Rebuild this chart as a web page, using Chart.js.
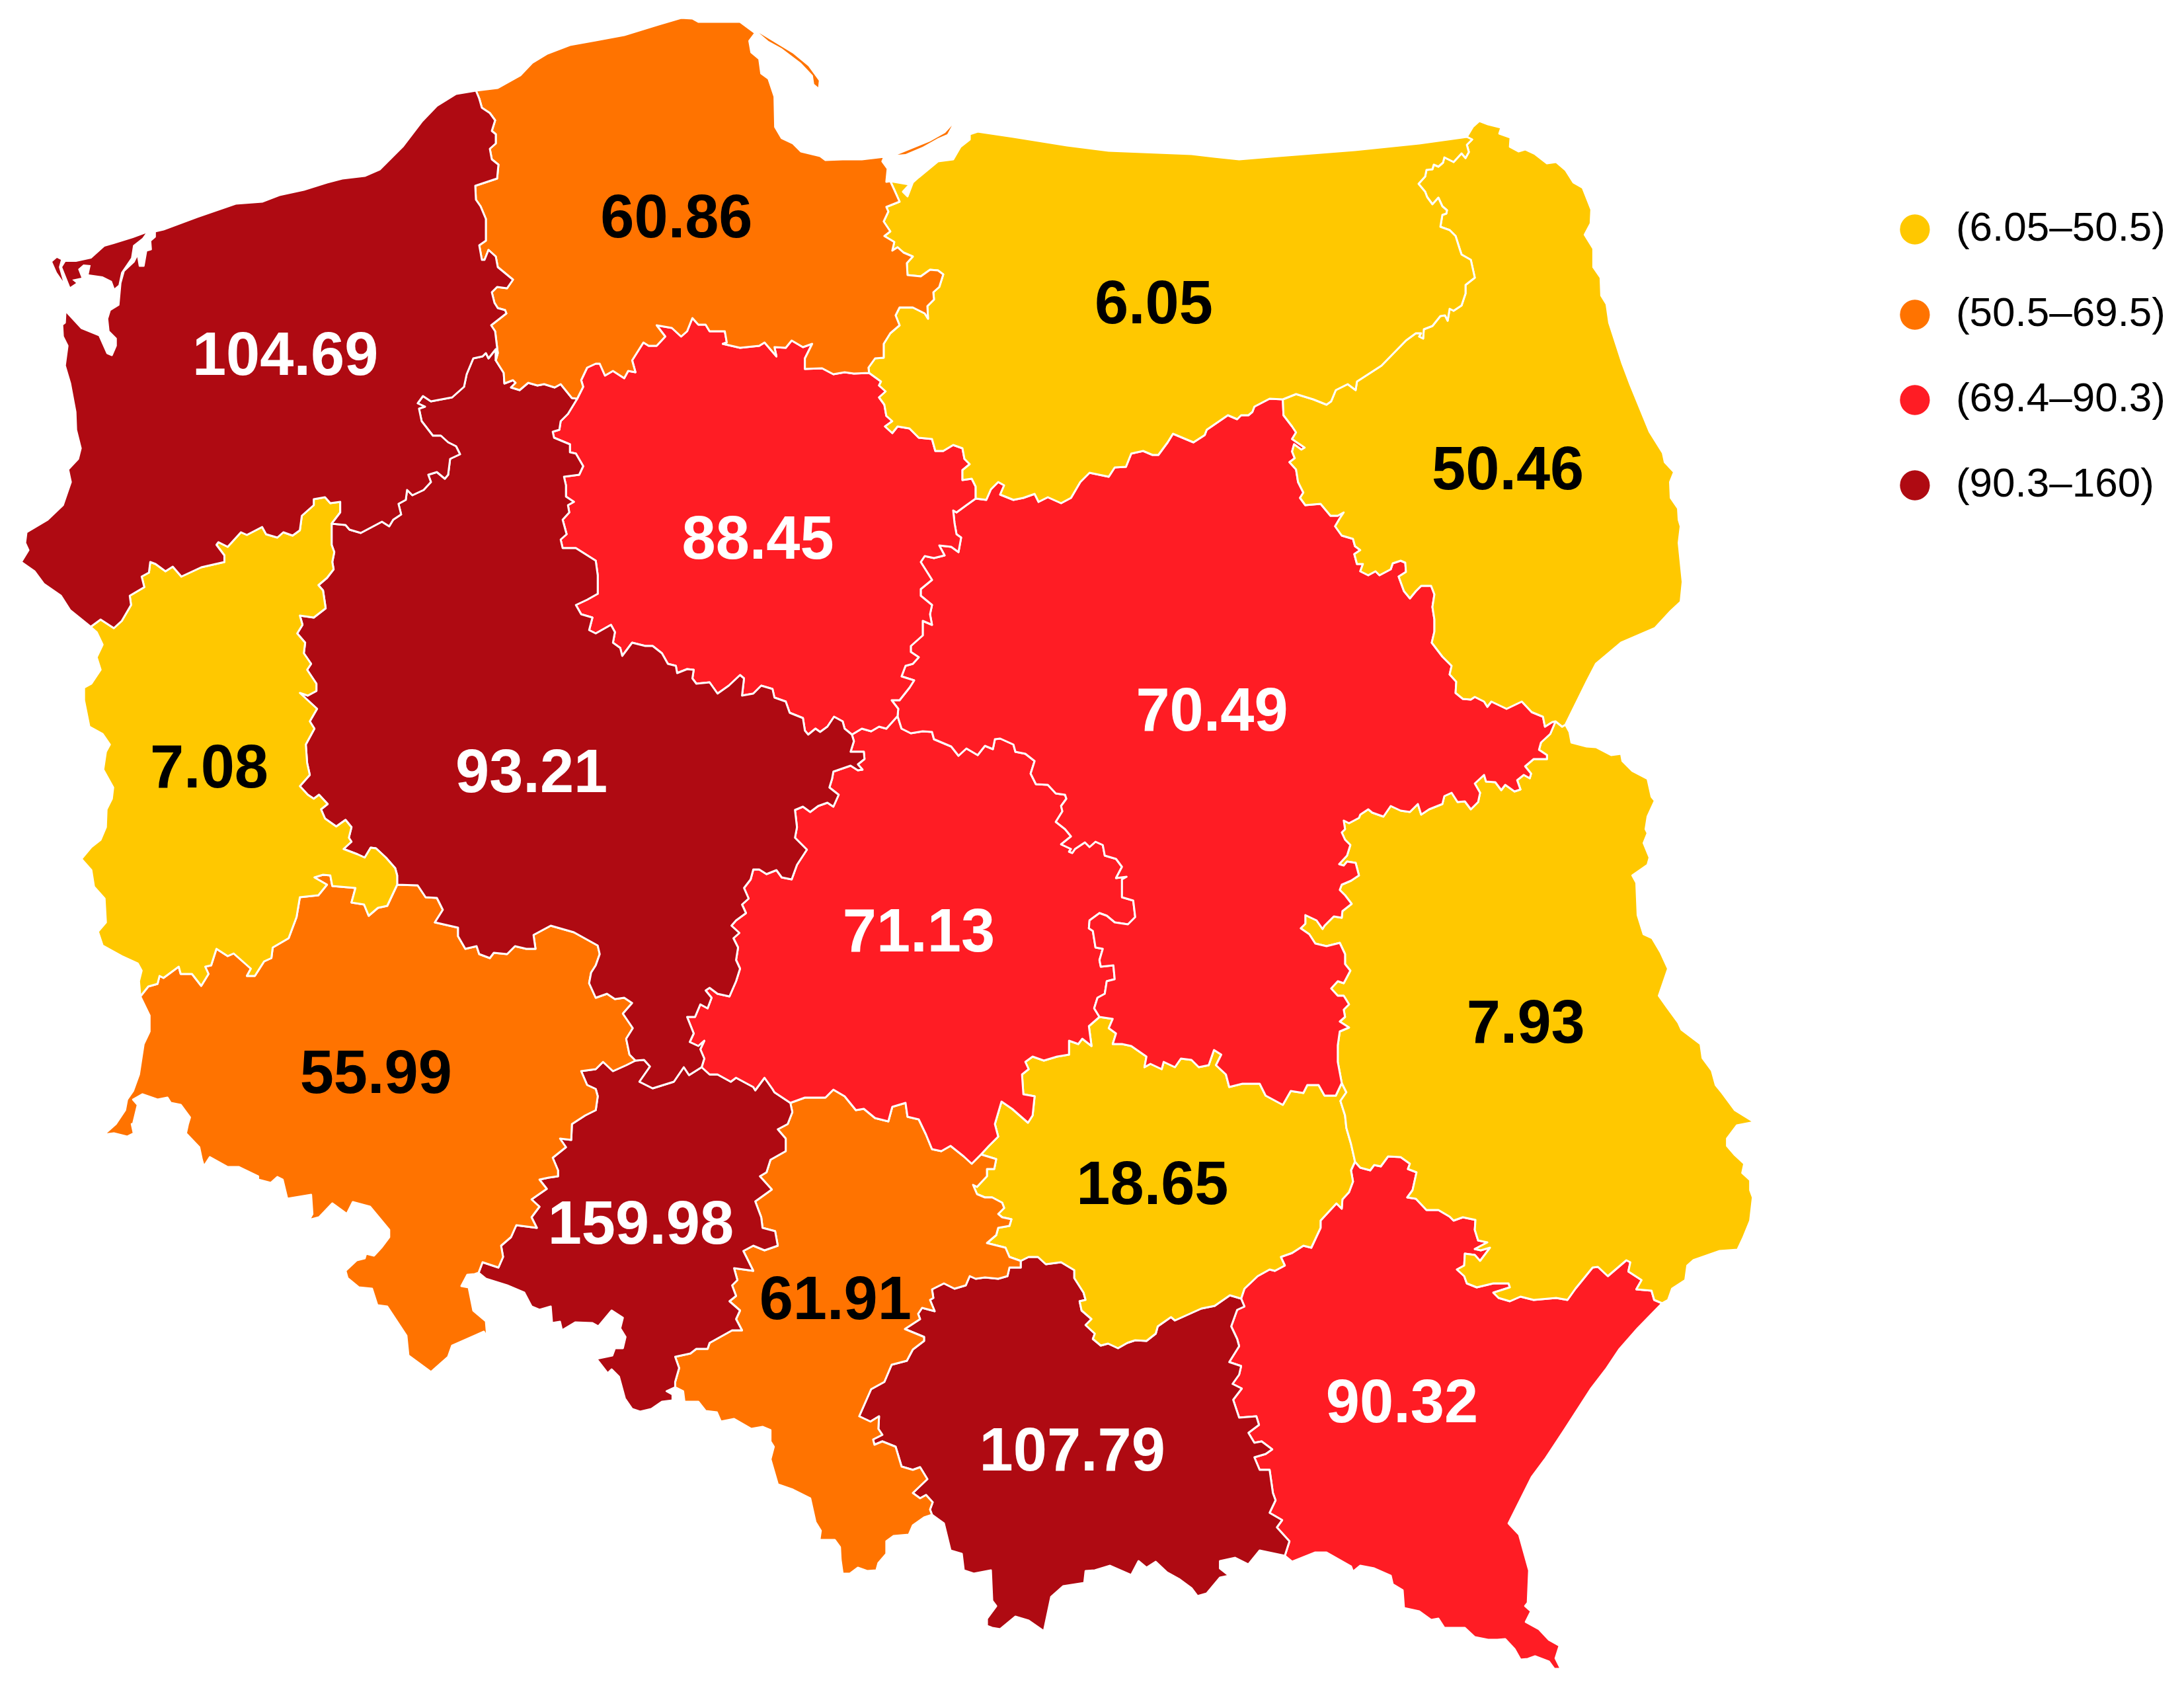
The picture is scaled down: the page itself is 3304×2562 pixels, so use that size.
<!DOCTYPE html>
<html>
<head>
<meta charset="utf-8">
<style>
html,body{margin:0;padding:0;background:#fff;}
#wrap{position:relative;width:3304px;height:2562px;}
</style>
<script src="https://cdn.jsdelivr.net/npm/chart.js@4/dist/chart.umd.js"></script>
</head>
<body>
<div id="wrap"><canvas id="map"></canvas></div>
<script>
// ==========================================
// values and classes
// ==========================================
const binLabels = ["(6.05–50.5)","(50.5–69.5)","(69.4–90.3)","(90.3–160)"];
const binColors = ["#FFC800","#FF7300","#FF1C24","#AF0A12"];
const binTextColors = ["#000000","#000000","#FFFFFF","#FFFFFF"];

const regionNames = ["Zachodniopomorskie","Pomorskie","Warmińsko-mazurskie","Podlaskie","Lubuskie","Wielkopolskie","Kujawsko-pomorskie","Mazowieckie","Łódzkie","Lubelskie","Dolnośląskie","Opolskie","Śląskie","Świętokrzyskie","Małopolskie","Podkarpackie"];
const regionValues = [104.69,60.86,6.05,50.46,7.08,93.21,88.45,70.49,71.13,7.93,55.99,159.98,61.91,18.65,107.79,90.32];
const regionBins = [3,1,0,0,0,3,2,2,2,0,1,3,1,0,3,2];
const labelX = [431,1022,1743,2278,316,803,1145,1831,1388,2305,568,968,1262,1741,1620,2118];
const labelY = [533,325,455,706,1157,1164,811,1071,1405,1543,1619,1847,1961,1787,2190,2117];

// ==========================================
// outlines, one list per stretch of border
// ==========================================
const coastWest = [[719,137],[689,142],[660,160],[637,184],[608,222],[574,256],[551,266],[517,270],[494,276],[459,287],[422,295],[396,305],[356,308],[298,328],[247,347],[234,350],[234,358],[227,364],[228,377],[221,379],[217,402],[211,402],[208,384],[202,396],[187,410],[182,428],[179,461],[166,469],[162,482],[164,501],[175,512],[175,523],[169,537],[162,534],[150,507],[123,496],[99,470],[98,488],[94,491],[95,509],[102,523],[98,553],[106,580],[114,623],[115,650],[122,678],[118,694],[103,710],[107,729],[95,764],[72,786],[40,805],[38,821],[43,832],[32,850],[52,864],[66,883],[92,901],[106,923],[137,948]];
const zpLub = [[137,948],[152,937],[172,950],[184,939],[198,915],[196,901],[218,888],[214,872],[225,866],[227,850],[235,853],[250,864],[261,857],[274,872],[304,858],[339,850],[339,840],[327,824],[330,820],[344,827],[364,805],[373,809],[396,797],[402,808],[419,813],[428,805],[442,810],[453,802],[456,780],[465,772],[474,764],[474,755],[491,752],[499,761],[514,759],[514,775],[501,792]];
const zpWlkp = [[501,792],[522,794],[528,801],[545,806],[577,789],[588,796],[594,786],[606,778],[602,762],[613,756],[615,741],[623,749],[640,741],[651,729],[647,718],[660,714],[672,724],[677,718],[680,694],[695,687],[689,675],[677,669],[666,659],[654,659],[637,637],[633,618],[642,615],[631,610],[639,599],[651,607],[683,601],[701,585],[705,566],[715,542],[729,539],[734,534],[738,542],[749,528],[749,545]];
const zpPom = [[749,545],[752,534],[748,501],[742,492],[765,474],[763,469],[752,466],[747,458],[743,442],[751,434],[766,436],[775,423],[752,404],[749,388],[738,378],[732,393],[728,393],[724,371],[734,364],[734,331],[726,312],[719,302],[718,281],[751,270],[753,249],[743,241],[740,225],[749,217],[749,203],[743,198],[748,182],[740,171],[728,163],[724,149],[719,137]];
const pomWlkp = [[749,545],[761,564],[762,580],[775,575],[779,579],[772,586],[785,590],[798,579],[812,583],[822,581],[838,586],[847,581],[864,602],[872,603]];
const pomKuj = [[872,603],[881,585],[878,575],[887,556],[900,550],[906,550],[914,568],[926,561],[943,572],[949,561],[960,563],[955,545],[972,518],[980,523],[992,523],[1005,509],[992,492],[1015,496],[1029,509],[1038,501],[1046,481],[1055,491],[1066,491],[1072,501],[1095,501],[1098,518],[1092,520],[1118,526],[1147,523],[1155,518],[1173,539],[1170,525],[1187,526],[1196,515],[1213,525],[1227,520],[1216,542],[1216,558],[1242,557],[1259,566],[1276,563],[1290,565],[1313,564]];
const pomWarm = [[1313,564],[1312,556],[1322,542],[1335,541],[1335,520],[1345,504],[1359,492],[1353,477],[1359,465],[1379,465],[1397,474],[1402,482],[1401,463],[1411,453],[1410,442],[1419,434],[1425,415],[1417,409],[1405,408],[1391,418],[1371,416],[1370,398],[1379,388],[1365,382],[1356,374],[1348,379],[1351,366],[1336,357],[1345,350],[1335,335],[1342,320],[1339,313],[1359,305],[1351,287],[1345,274]];
const coastPom = [[719,137],[752,133],[786,114],[804,95],[827,81],[861,68],[900,61],[943,53],[995,37],[1029,27],[1046,28],[1055,33],[1118,33],[1141,50],[1132,62],[1135,79],[1147,89],[1150,111],[1161,119],[1170,146],[1171,192],[1181,209],[1198,217],[1210,229],[1239,236],[1247,242],[1273,241],[1302,241],[1336,237],[1333,244],[1341,255],[1339,275],[1345,274]];
const coastWarm = [[1345,274],[1374,279],[1364,290],[1371,297],[1379,276],[1388,268],[1417,244],[1440,241],[1451,222],[1465,211],[1465,203],[1477,199],[1531,207],[1612,220],[1675,228],[1800,233],[1834,237],[1872,241],[1932,236],[2047,227],[2144,217],[2216,207]];
const warmPodl = [[2216,207],[2224,211],[2216,219],[2219,230],[2214,239],[2208,232],[2196,245],[2182,238],[2180,246],[2173,252],[2166,249],[2164,256],[2155,257],[2153,267],[2143,278],[2153,290],[2156,298],[2164,309],[2173,299],[2179,312],[2186,318],[2185,323],[2179,325],[2176,343],[2190,348],[2199,357],[2205,376],[2208,385],[2222,393],[2228,420],[2214,431],[2214,444],[2208,462],[2196,470],[2190,467],[2187,485],[2183,477],[2176,478],[2164,493],[2151,498],[2150,512],[2144,509],[2147,504],[2139,504],[2124,515],[2087,553],[2050,577],[2048,590],[2036,581],[2018,590],[2011,607],[2004,612],[1984,604],[1958,596],[1938,604]];
const warmMaz = [[1938,604],[1918,603],[1895,615],[1892,623],[1886,628],[1875,628],[1869,634],[1855,628],[1823,650],[1820,658],[1803,669],[1772,656],[1764,669],[1750,688],[1741,688],[1727,682],[1709,686],[1701,706],[1684,707],[1675,721],[1646,715],[1632,729],[1618,753],[1603,761],[1583,752],[1569,759],[1563,747],[1546,753],[1531,756],[1511,748],[1517,734],[1508,729],[1497,740],[1490,756],[1474,754]];
const warmKuj = [[1313,564],[1331,577],[1328,583],[1338,592],[1328,601],[1336,612],[1339,629],[1348,637],[1337,645],[1348,655],[1356,645],[1374,648],[1388,662],[1408,664],[1413,682],[1425,682],[1440,673],[1454,678],[1457,694],[1465,702],[1454,711],[1454,726],[1468,724],[1474,736],[1474,754]];
const eastPodl = [[2216,207],[2225,192],[2235,183],[2248,188],[2268,193],[2265,202],[2282,208],[2281,222],[2294,229],[2304,226],[2319,233],[2337,247],[2351,245],[2365,257],[2377,276],[2391,284],[2404,317],[2403,338],[2394,355],[2407,376],[2407,404],[2418,420],[2419,447],[2427,460],[2431,488],[2451,550],[2463,582],[2492,653],[2512,685],[2515,699],[2529,714],[2523,729],[2524,753],[2535,769],[2536,786],[2539,796],[2536,821],[2542,880],[2539,910],[2524,924],[2500,950],[2449,972],[2411,1004],[2397,1031],[2365,1096]];
const podlLub = [[2365,1096],[2360,1099],[2350,1091]];
const podlMaz = [[1938,604],[1939,628],[1952,645],[1958,654],[1952,664],[1971,677],[1966,680],[1955,672],[1952,683],[1956,693],[1948,699],[1958,710],[1961,729],[1969,745],[1964,753],[1972,764],[1995,762],[2010,780],[2021,780],[2030,775],[2024,784],[2017,796],[2027,810],[2044,815],[2047,826],[2055,832],[2046,838],[2050,853],[2059,853],[2055,864],[2067,870],[2078,864],[2084,870],[2101,861],[2104,852],[2116,848],[2123,851],[2124,865],[2113,872],[2121,894],[2130,905],[2139,894],[2147,886],[2162,886],[2167,899],[2164,918],[2167,937],[2167,955],[2163,972],[2179,993],[2193,1007],[2190,1020],[2200,1031],[2199,1048],[2210,1057],[2222,1058],[2228,1054],[2242,1061],[2247,1069],[2253,1061],[2276,1072],[2299,1061],[2314,1077],[2331,1084],[2334,1099],[2345,1092],[2350,1091]];
const westLub = [[137,948],[146,956],[155,975],[146,994],[152,1013],[138,1034],[127,1040],[127,1059],[135,1099],[155,1110],[166,1126],[160,1137],[156,1164],[171,1191],[169,1208],[161,1224],[160,1251],[152,1270],[138,1281],[123,1299],[138,1316],[142,1341],[158,1359],[160,1395],[148,1409],[155,1430],[184,1446],[208,1457],[214,1468],[210,1484],[212,1507]];
const lubDol = [[600,1338],[585,1370],[571,1373],[557,1385],[550,1368],[531,1365],[537,1343],[502,1340],[499,1324],[488,1323],[475,1327],[494,1338],[481,1354],[453,1357],[448,1387],[436,1419],[412,1433],[410,1449],[399,1454],[385,1476],[373,1476],[379,1465],[353,1442],[344,1446],[327,1435],[319,1460],[310,1462],[315,1473],[304,1491],[290,1473],[273,1473],[270,1462],[247,1479],[241,1476],[238,1488],[224,1492],[212,1507]];
const lubWlkp = [[501,792],[501,824],[505,835],[502,850],[504,861],[494,874],[481,885],[488,893],[492,920],[474,934],[453,931],[457,945],[449,958],[461,972],[459,988],[470,1004],[464,1013],[478,1034],[478,1045],[465,1052],[453,1048],[479,1072],[468,1091],[475,1102],[462,1126],[464,1154],[468,1172],[453,1189],[465,1202],[474,1208],[482,1202],[495,1216],[485,1224],[491,1238],[508,1250],[522,1240],[531,1251],[527,1267],[531,1273],[519,1284],[540,1292],[551,1297],[560,1282],[568,1283],[583,1297],[597,1313],[600,1324],[600,1338]];
const kujWlkp = [[872,603],[858,626],[847,637],[845,650],[835,653],[837,662],[861,672],[861,684],[870,686],[881,705],[875,718],[852,721],[855,734],[855,751],[867,759],[858,764],[860,775],[850,786],[856,808],[847,816],[850,829],[870,829],[900,848],[903,870],[903,898],[887,907],[870,915],[878,929],[895,934],[890,953],[900,958],[923,945],[929,956],[926,972],[937,980],[940,992],[955,972],[975,977],[986,977],[1000,988],[1009,1004],[1021,1007],[1023,1018],[1038,1012],[1048,1013],[1046,1026],[1052,1034],[1072,1032],[1084,1049],[1101,1037],[1118,1021],[1124,1026],[1121,1052],[1138,1049],[1150,1037],[1167,1042],[1170,1055],[1187,1061],[1193,1078],[1213,1086],[1216,1105],[1221,1111],[1232,1102],[1239,1107],[1250,1099],[1260,1084],[1273,1091],[1276,1102],[1287,1111]];
const wlkpLodz = [[1287,1111],[1290,1121],[1285,1137],[1305,1137],[1306,1148],[1296,1156],[1303,1164],[1296,1165],[1285,1158],[1259,1167],[1257,1178],[1253,1191],[1267,1202],[1259,1220],[1250,1214],[1236,1219],[1224,1228],[1213,1220],[1201,1225],[1204,1251],[1201,1267],[1219,1285],[1204,1308],[1196,1330],[1181,1327],[1173,1316],[1158,1322],[1147,1315],[1138,1315],[1134,1330],[1124,1343],[1131,1359],[1121,1368],[1127,1381],[1112,1392],[1105,1400],[1117,1411],[1108,1419],[1115,1433],[1112,1452],[1118,1465],[1112,1484],[1102,1507],[1084,1503],[1072,1494],[1066,1498],[1075,1509],[1069,1525],[1058,1519],[1050,1538],[1038,1538],[1048,1563],[1042,1576],[1055,1582],[1064,1574],[1058,1587],[1064,1601],[1060,1614]];
const wlkpOpol = [[960,1604],[973,1603],[982,1613],[966,1636],[986,1646],[1018,1636],[1033,1614],[1041,1626],[1060,1614]];
const wlkpDol = [[960,1604],[951,1595],[946,1571],[956,1555],[941,1533],[955,1517],[943,1509],[929,1511],[917,1503],[900,1509],[890,1487],[893,1471],[900,1460],[906,1443],[903,1430],[867,1410],[832,1400],[806,1414],[809,1435],[795,1435],[778,1431],[766,1443],[746,1441],[740,1449],[724,1443],[720,1431],[703,1435],[692,1416],[692,1403],[657,1395],[669,1376],[660,1358],[643,1357],[631,1339],[600,1338]];
const kujMaz = [[1474,754],[1460,764],[1445,775],[1440,772],[1442,791],[1445,808],[1452,813],[1448,835],[1437,827],[1419,825],[1427,840],[1411,844],[1397,841],[1391,850],[1408,877],[1391,891],[1391,901],[1408,915],[1405,929],[1408,945],[1394,939],[1394,961],[1376,977],[1376,986],[1388,994],[1379,1004],[1368,1007],[1362,1023],[1381,1029],[1374,1040],[1359,1059],[1347,1059],[1357,1072],[1356,1083]];
const kujLodz = [[1356,1083],[1339,1102],[1328,1099],[1316,1106],[1302,1102],[1287,1111]];
const mazLub = [[2350,1091],[2342,1110],[2328,1123],[2325,1134],[2337,1142],[2337,1148],[2317,1148],[2304,1159],[2313,1170],[2311,1177],[2302,1172],[2292,1180],[2297,1194],[2288,1197],[2274,1187],[2268,1195],[2259,1183],[2245,1182],[2242,1172],[2228,1185],[2236,1199],[2233,1213],[2222,1224],[2213,1212],[2202,1213],[2193,1199],[2182,1204],[2179,1216],[2159,1224],[2147,1232],[2142,1216],[2130,1228],[2116,1226],[2101,1219],[2090,1235],[2073,1229],[2067,1224],[2055,1232],[2053,1237],[2038,1245],[2030,1241],[2032,1254],[2027,1259],[2032,1270],[2040,1278],[2035,1294],[2023,1307],[2030,1309],[2035,1303],[2048,1305],[2053,1324],[2041,1332],[2027,1338],[2024,1346],[2032,1354],[2042,1367],[2028,1378],[2027,1388],[2015,1386],[2001,1400],[1998,1405],[1989,1392],[1972,1384],[1972,1397],[1965,1404],[1978,1413],[1987,1427],[2004,1431],[2024,1426],[2032,1443],[2032,1458],[2040,1468],[2030,1487],[2021,1484],[2011,1495],[2021,1506],[2030,1506],[2038,1519],[2030,1527],[2032,1538],[2024,1545],[2038,1554],[2024,1560],[2021,1581],[2021,1606],[2027,1638]];
const mazSwi = [[2027,1638],[2018,1657],[2001,1657],[1992,1641],[1975,1641],[1969,1653],[1950,1650],[1938,1671],[1912,1657],[1903,1639],[1877,1639],[1857,1644],[1852,1625],[1837,1611],[1845,1595],[1834,1588],[1826,1611],[1811,1614],[1800,1603],[1784,1601],[1775,1614],[1758,1606],[1755,1617],[1738,1609],[1729,1614],[1732,1598],[1709,1582],[1695,1579],[1681,1579],[1686,1563],[1675,1555],[1681,1541],[1661,1538]];
const mazLodz = [[1661,1538],[1653,1525],[1658,1509],[1669,1503],[1672,1484],[1684,1481],[1682,1460],[1663,1462],[1661,1452],[1666,1435],[1655,1433],[1651,1408],[1645,1404],[1646,1392],[1661,1381],[1672,1385],[1684,1395],[1704,1398],[1715,1387],[1712,1362],[1695,1357],[1695,1330],[1702,1326],[1686,1328],[1695,1311],[1686,1299],[1669,1294],[1666,1278],[1655,1273],[1646,1281],[1639,1274],[1624,1284],[1620,1290],[1615,1288],[1618,1284],[1603,1277],[1618,1265],[1609,1254],[1595,1243],[1605,1227],[1603,1219],[1611,1208],[1609,1202],[1595,1200],[1583,1187],[1565,1186],[1557,1170],[1563,1151],[1549,1140],[1534,1137],[1531,1126],[1511,1117],[1503,1118],[1500,1133],[1488,1128],[1477,1142],[1460,1132],[1448,1143],[1437,1129],[1411,1118],[1408,1107],[1394,1106],[1376,1109],[1362,1102],[1356,1083]];
const lodzSwi = [[1661,1538],[1645,1552],[1649,1582],[1635,1571],[1629,1579],[1615,1574],[1615,1595],[1597,1598],[1577,1604],[1560,1598],[1549,1606],[1554,1617],[1544,1625],[1546,1655],[1563,1658],[1560,1687],[1553,1698],[1529,1677],[1513,1666],[1503,1700],[1508,1719],[1494,1733],[1482,1746]];
const lodzSl = [[1194,1668],[1216,1660],[1247,1660],[1259,1648],[1276,1658],[1293,1679],[1305,1677],[1322,1691],[1342,1696],[1348,1674],[1368,1668],[1371,1689],[1388,1693],[1399,1716],[1408,1738],[1422,1741],[1436,1733],[1456,1749],[1468,1760],[1482,1746]];
const lodzOpol = [[1060,1614],[1072,1625],[1084,1625],[1104,1636],[1112,1630],[1138,1644],[1141,1649],[1155,1630],[1167,1647],[1170,1652],[1194,1668]];
const eastLub = [[2365,1096],[2371,1107],[2374,1123],[2397,1129],[2411,1130],[2434,1142],[2449,1140],[2451,1151],[2466,1166],[2489,1178],[2495,1205],[2500,1211],[2489,1235],[2486,1254],[2489,1260],[2483,1275],[2492,1297],[2489,1308],[2466,1324],[2472,1335],[2474,1384],[2483,1413],[2496,1419],[2509,1441],[2520,1465],[2506,1506],[2518,1523],[2535,1546],[2540,1557],[2569,1579],[2572,1600],[2586,1619],[2592,1641],[2601,1652],[2621,1679],[2650,1697],[2624,1702],[2609,1722],[2609,1733],[2621,1747],[2635,1760],[2632,1774],[2644,1785],[2644,1800],[2648,1811],[2644,1846],[2633,1873],[2625,1890],[2598,1892],[2558,1906],[2549,1914],[2546,1936],[2526,1949],[2520,1966],[2511,1971]];
const lubPodk = [[2047,1757],[2055,1766],[2070,1770],[2076,1762],[2086,1764],[2097,1749],[2116,1750],[2130,1760],[2127,1768],[2140,1773],[2134,1800],[2126,1811],[2139,1813],[2155,1830],[2173,1830],[2190,1840],[2196,1846],[2210,1841],[2229,1845],[2228,1860],[2233,1876],[2247,1879],[2228,1889],[2237,1891],[2251,1887],[2236,1907],[2228,1898],[2213,1896],[2212,1914],[2201,1920],[2212,1930],[2216,1941],[2231,1947],[2256,1941],[2279,1941],[2281,1947],[2256,1955],[2264,1963],[2281,1968],[2297,1961],[2317,1966],[2351,1963],[2368,1966],[2380,1949],[2406,1917],[2414,1916],[2429,1930],[2457,1906],[2463,1909],[2460,1923],[2480,1936],[2472,1950],[2495,1952],[2499,1966],[2511,1971]];
const lubSwi = [[2027,1638],[2034,1652],[2025,1665],[2032,1687],[2034,1706],[2041,1730],[2046,1752],[2047,1757]];
const southDol = [[212,1507],[226,1536],[226,1560],[217,1579],[210,1625],[201,1650],[192,1663],[189,1679],[175,1700],[157,1716],[172,1714],[192,1719],[202,1714],[199,1700],[201,1700],[208,1671],[201,1663],[215,1655],[238,1663],[253,1660],[258,1668],[273,1671],[287,1690],[284,1700],[281,1714],[301,1735],[305,1754],[308,1764],[317,1750],[344,1765],[361,1765],[390,1779],[390,1784],[409,1789],[419,1780],[427,1784],[434,1813],[470,1807],[472,1836],[467,1845],[482,1841],[502,1820],[524,1836],[533,1818],[559,1825],[588,1860],[588,1871],[576,1887],[565,1899],[553,1896],[551,1903],[539,1906],[522,1922],[525,1933],[542,1947],[562,1949],[570,1974],[585,1976],[614,2020],[617,2050],[651,2075],[677,2052],[683,2035],[717,2020],[731,2014],[736,2022],[734,1998],[715,1982],[708,1947],[697,1945],[706,1928],[717,1927],[723,1925]];
const dolOpol = [[960,1604],[946,1611],[926,1620],[911,1606],[900,1617],[878,1620],[887,1641],[900,1647],[903,1658],[900,1679],[884,1687],[864,1700],[863,1724],[846,1722],[855,1735],[835,1751],[843,1770],[843,1779],[829,1781],[815,1784],[826,1798],[803,1814],[815,1825],[803,1841],[811,1857],[780,1853],[772,1871],[757,1884],[760,1901],[753,1917],[729,1909],[723,1925]];
const southOpol = [[723,1925],[734,1934],[766,1944],[792,1955],[803,1976],[815,1981],[832,1976],[834,2001],[846,1999],[849,2012],[869,2000],[895,2001],[904,2006],[924,1982],[941,1993],[937,2009],[945,2022],[941,2039],[929,2039],[925,2050],[901,2055],[918,2077],[924,2071],[935,2082],[944,2115],[955,2131],[967,2135],[984,2131],[1000,2120],[1016,2118],[1016,2109],[1007,2104],[1020,2098]];
const opolSl = [[1194,1668],[1197,1682],[1190,1700],[1175,1708],[1187,1722],[1187,1741],[1164,1754],[1158,1773],[1148,1779],[1166,1799],[1141,1817],[1150,1841],[1152,1857],[1171,1862],[1175,1884],[1155,1891],[1138,1884],[1123,1892],[1138,1922],[1109,1918],[1114,1936],[1106,1944],[1112,1960],[1102,1968],[1118,1982],[1112,1995],[1121,2012],[1106,2012],[1072,2031],[1069,2040],[1052,2040],[1043,2047],[1020,2052],[1026,2069],[1020,2090],[1020,2098]];
const southSl = [[1020,2098],[1032,2104],[1034,2120],[1055,2120],[1066,2134],[1083,2136],[1089,2150],[1109,2146],[1135,2161],[1152,2158],[1164,2163],[1164,2180],[1169,2188],[1164,2207],[1175,2245],[1198,2253],[1224,2266],[1232,2302],[1240,2315],[1238,2329],[1261,2329],[1269,2340],[1270,2359],[1273,2380],[1284,2380],[1296,2371],[1310,2376],[1324,2375],[1327,2364],[1339,2350],[1339,2331],[1350,2323],[1373,2321],[1379,2307],[1396,2295],[1408,2291]];
const slSwi = [[1482,1746],[1505,1753],[1502,1768],[1491,1768],[1491,1779],[1476,1795],[1470,1792],[1476,1806],[1488,1811],[1499,1811],[1514,1819],[1517,1827],[1508,1836],[1514,1841],[1528,1844],[1525,1854],[1508,1857],[1505,1868],[1491,1880],[1519,1887],[1525,1901],[1542,1907]];
const slMal = [[1542,1907],[1542,1917],[1525,1917],[1522,1930],[1508,1934],[1488,1932],[1474,1934],[1465,1930],[1459,1944],[1442,1949],[1426,1941],[1408,1950],[1410,1963],[1405,1966],[1412,1983],[1393,1978],[1387,1987],[1390,1995],[1367,2010],[1396,2022],[1396,2028],[1379,2041],[1370,2058],[1347,2064],[1336,2090],[1316,2101],[1298,2142],[1315,2150],[1328,2142],[1327,2161],[1333,2170],[1319,2177],[1321,2185],[1333,2180],[1353,2188],[1362,2218],[1379,2223],[1390,2219],[1401,2237],[1379,2258],[1390,2266],[1399,2261],[1409,2272],[1405,2283],[1408,2291]];
const swiMal = [[1542,1907],[1554,1901],[1568,1901],[1580,1912],[1603,1909],[1623,1921],[1623,1933],[1637,1955],[1640,1966],[1631,1968],[1634,1982],[1649,1995],[1640,2004],[1654,2017],[1651,2025],[1663,2035],[1674,2032],[1689,2039],[1703,2031],[1715,2027],[1732,2028],[1746,2017],[1749,2006],[1769,1992],[1775,1997],[1815,1979],[1835,1975],[1858,1959],[1875,1964]];
const swiPodk = [[1875,1964],[1880,1949],[1900,1930],[1918,1920],[1926,1922],[1941,1914],[1935,1901],[1952,1895],[1969,1884],[1981,1887],[1995,1857],[1995,1846],[2019,1820],[2027,1828],[2028,1814],[2038,1803],[2044,1787],[2041,1770],[2047,1757]];
const malPodk = [[1875,1964],[1880,1976],[1869,1981],[1860,2006],[1869,2025],[1872,2036],[1857,2060],[1875,2066],[1872,2079],[1862,2093],[1876,2100],[1863,2117],[1872,2144],[1898,2142],[1902,2155],[1886,2167],[1895,2182],[1906,2180],[1922,2192],[1912,2199],[1895,2204],[1903,2223],[1918,2223],[1923,2258],[1927,2269],[1918,2288],[1937,2299],[1929,2310],[1948,2331],[1941,2353]];
const southMal = [[1941,2353],[1903,2345],[1886,2366],[1866,2356],[1843,2361],[1843,2372],[1857,2383],[1843,2386],[1823,2410],[1809,2414],[1800,2402],[1781,2388],[1763,2378],[1746,2362],[1732,2371],[1720,2361],[1709,2382],[1677,2368],[1654,2375],[1640,2376],[1638,2394],[1606,2399],[1588,2415],[1577,2467],[1554,2451],[1534,2445],[1511,2464],[1499,2462],[1491,2459],[1491,2448],[1505,2429],[1499,2421],[1497,2375],[1471,2380],[1456,2375],[1453,2350],[1436,2345],[1426,2304],[1408,2291]];
const southPodk = [[2511,1971],[2474,2009],[2446,2041],[2426,2071],[2403,2101],[2363,2163],[2334,2207],[2314,2234],[2299,2264],[2279,2304],[2295,2321],[2310,2375],[2308,2424],[2304,2429],[2313,2437],[2305,2453],[2325,2464],[2340,2480],[2356,2489],[2350,2508],[2358,2524],[2348,2524],[2340,2513],[2319,2505],[2308,2509],[2297,2510],[2288,2494],[2274,2479],[2262,2480],[2248,2480],[2228,2476],[2213,2462],[2182,2462],[2173,2448],[2162,2450],[2144,2437],[2121,2432],[2119,2405],[2104,2396],[2101,2383],[2076,2372],[2055,2368],[2044,2377],[2041,2369],[2004,2348],[1987,2348],[1952,2362],[1941,2353]];

// islands and spits, drawn without a white edge
const wolin = [[220,353],[201,360],[172,369],[158,373],[138,391],[115,396],[99,396],[94,404],[106,434],[115,428],[109,423],[123,420],[118,407],[126,400],[137,401],[134,415],[155,418],[169,425],[173,436],[179,431],[183,412],[198,390],[201,371],[215,360]];
const uznam = [[79,396],[86,390],[92,393],[89,404],[95,425],[86,412]];
const helSpit = [[1147,50],[1198,81],[1221,100],[1237,122],[1236,132],[1230,127],[1228,114],[1210,95],[1181,73],[1161,62]];
const vistulaSpit = [[1356,234],[1405,214],[1428,201],[1438,190],[1431,203],[1417,209],[1394,222],[1368,233]];

// ==========================================
// regions built from the stretches
// ==========================================
const r = edge => edge.slice().reverse();

const regionEdges = [
    [coastWest,zpLub,zpWlkp,zpPom],
    [coastPom,r(pomWarm),r(pomKuj),r(pomWlkp),zpPom],
    [coastWarm,warmPodl,warmMaz,r(warmKuj),pomWarm],
    [eastPodl,podlLub,r(podlMaz),r(warmPodl)],
    [westLub,r(lubDol),r(lubWlkp),r(zpLub)],
    [pomWlkp,kujWlkp,wlkpLodz,r(wlkpOpol),wlkpDol,r(lubWlkp),zpWlkp],
    [pomKuj,warmKuj,kujMaz,kujLodz,r(kujWlkp)],
    [podlMaz,mazLub,mazSwi,mazLodz,r(kujMaz),r(warmMaz)],
    [r(mazLodz),lodzSwi,r(lodzSl),r(lodzOpol),r(wlkpLodz),r(kujLodz)],
    [eastLub,r(lubPodk),r(lubSwi),r(mazLub),r(podlLub)],
    [southDol,r(dolOpol),wlkpDol,lubDol],
    [southOpol,r(opolSl),r(lodzOpol),r(wlkpOpol),dolOpol],
    [southSl,r(slMal),r(slSwi),r(lodzSl),opolSl],
    [mazSwi,lodzSwi,slSwi,swiMal,swiPodk,r(lubSwi)],
    [swiMal,malPodk,southMal,r(slMal)],
    [lubPodk,southPodk,r(malPodk),swiPodk]
];

const toPoints = line => line.map(p => ({x:p[0],y:p[1]}));

const datasets = regionEdges.map((edges,i) => ({
    label:regionNames[i],
    data:toPoints(edges.flat()),
    showLine:true,
    fill:"shape",
    tension:0,
    clip:false,
    backgroundColor:binColors[regionBins[i]],
    borderColor:"#FFFFFF",
    borderWidth:3,
    borderJoinStyle:"round",
    pointRadius:0,
    pointHoverRadius:0
}));

[[wolin,3],[uznam,3],[helSpit,1],[vistulaSpit,1]].forEach(item => {
    datasets.push({
        label:"",
        data:toPoints(item[0]),
        showLine:true,
        fill:"shape",
        tension:0,
        clip:false,
        backgroundColor:binColors[item[1]],
        borderWidth:0,
        pointRadius:0,
        pointHoverRadius:0
    });
});

// ==========================================
// value in the middle of each region
// ==========================================
const valueLabels = {
    id:"valueLabels",
    afterDatasetsDraw(chart){
        const c = chart.ctx;
        c.save();
        c.font = "bold 92px 'Liberation Sans'";
        c.textAlign = "center";
        c.textBaseline = "alphabetic";
        regionValues.forEach((v,i) => {
            c.fillStyle = binTextColors[regionBins[i]];
            c.fillText(v.toFixed(2),chart.scales.x.getPixelForValue(labelX[i]),chart.scales.y.getPixelForValue(labelY[i])+34);
        });
        c.restore();
    }
};

new Chart(document.getElementById("map").getContext("2d"),{
    type:"scatter",
    data:{datasets:datasets},
    plugins:[valueLabels],
    options:{
        responsive:true,
        maintainAspectRatio:false,
        animation:false,
        devicePixelRatio:1,
        layout:{padding:{right:18}},
        scales:{
            x:{type:"linear",display:false,min:0,max:2795},
            y:{type:"linear",display:false,min:0,max:2562,reverse:true}
        },
        plugins:{
            tooltip:{enabled:false},
            legend:{
                position:"right",
                align:"start",
                title:{display:true,text:"",font:{size:10},padding:{top:0,bottom:237}},
                labels:{
                    usePointStyle:true,
                    pointStyle:"circle",
                    boxWidth:62,
                    boxHeight:32,
                    padding:67,
                    color:"#000000",
                    font:{family:"'Liberation Sans'",size:62},
                    generateLabels(){
                        return binLabels.map((t,i) => ({
                            text:t,
                            fillStyle:binColors[i],
                            strokeStyle:binColors[i],
                            fontColor:"#000000",
                            lineWidth:0,
                            pointStyle:"circle",
                            hidden:false,
                            datasetIndex:i
                        }));
                    }
                }
            }
        }
    }
});
</script>
</body>
</html>
